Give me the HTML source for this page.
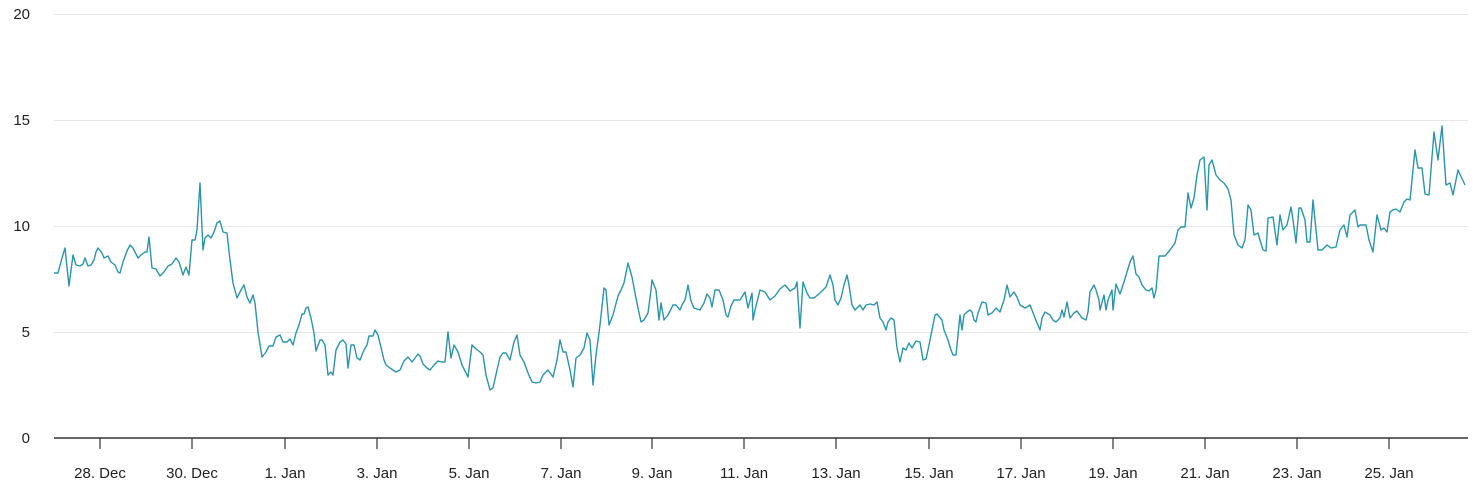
<!DOCTYPE html>
<html><head><style>body{margin:0;background:#fff}svg{display:block;font-family:"Liberation Sans",sans-serif}</style></head><body>
<svg width="1473" height="496" viewBox="0 0 1473 496">
<g stroke="#e6e6e6" stroke-width="1">
<line x1="54" x2="1468" y1="14.5" y2="14.5"/><line x1="54" x2="1468" y1="120.5" y2="120.5"/><line x1="54" x2="1468" y1="226.5" y2="226.5"/><line x1="54" x2="1468" y1="332.5" y2="332.5"/>
</g>
<line x1="54" x2="1468" y1="438" y2="438" stroke="#333" stroke-width="1.5"/>
<g stroke="#333" stroke-width="1.2">
<line x1="100" x2="100" y1="438" y2="449"/><line x1="192" x2="192" y1="438" y2="449"/><line x1="285" x2="285" y1="438" y2="449"/><line x1="377" x2="377" y1="438" y2="449"/><line x1="469" x2="469" y1="438" y2="449"/><line x1="561" x2="561" y1="438" y2="449"/><line x1="652" x2="652" y1="438" y2="449"/><line x1="744" x2="744" y1="438" y2="449"/><line x1="836" x2="836" y1="438" y2="449"/><line x1="929" x2="929" y1="438" y2="449"/><line x1="1021" x2="1021" y1="438" y2="449"/><line x1="1113" x2="1113" y1="438" y2="449"/><line x1="1205" x2="1205" y1="438" y2="449"/><line x1="1297" x2="1297" y1="438" y2="449"/><line x1="1389" x2="1389" y1="438" y2="449"/>
</g>
<g font-size="15" fill="#222" text-anchor="end">
<text x="30" y="19">20</text><text x="30" y="125">15</text><text x="30" y="231">10</text><text x="30" y="337">5</text><text x="30" y="443">0</text>
</g>
<g font-size="15" fill="#222" text-anchor="middle">
<text x="100" y="478">28. Dec</text><text x="192" y="478">30. Dec</text><text x="285" y="478">1. Jan</text><text x="377" y="478">3. Jan</text><text x="469" y="478">5. Jan</text><text x="561" y="478">7. Jan</text><text x="652" y="478">9. Jan</text><text x="744" y="478">11. Jan</text><text x="836" y="478">13. Jan</text><text x="929" y="478">15. Jan</text><text x="1021" y="478">17. Jan</text><text x="1113" y="478">19. Jan</text><text x="1205" y="478">21. Jan</text><text x="1297" y="478">23. Jan</text><text x="1389" y="478">25. Jan</text>
</g>
<polyline fill="none" stroke="#2b94a8" stroke-width="1.4" stroke-linejoin="round" points="54,273 58,273 62,258 65,248 69,286 73,255 76,265 80,266 83,264 85,258 88,266 91,265 94,260 96,252 98,248 102,253 104,258 108,256 111,262 115,265 118,272 120,273 123,262 127,251 130,245 133,248 138,258 141,255 145,252 147,252 149,237 152,268 156,269 160,276 164,272 168,266 172,264 176,258 179,262 183,275 186,267 189,275 192,240 195,240 197,230 200,183 203,250 205,238 208,235 211,238 214,232 217,223 220,221 223,232 227,233 230,260 233,283 237,298 241,290 244,285 247,297 250,303 253,295 255,303 258,332 262,357 266,352 269,346 273,346 276,337 280,335 283,342 287,342 290,339 293,345 296,333 299,325 302,314 304,314 306,308 308,307 311,318 314,333 316,351 320,340 322,340 325,345 328,375 331,372 333,375 336,350 340,342 343,340 346,344 348,368 351,345 354,345 357,358 360,360 364,350 367,345 369,336 373,336 375,330 378,335 384,360 386,365 390,368 396,372 400,370 404,361 408,357 412,362 418,354 420,356 423,364 427,368 430,370 434,365 438,361 442,362 445,362 448,332 451,358 454,345 458,352 462,365 468,377 472,345 475,348 480,352 483,355 486,375 490,390 493,388 497,370 500,357 503,353 506,353 510,360 514,342 517,335 520,355 524,362 528,373 532,382 536,383 540,382 543,375 548,370 553,377 557,360 560,340 563,352 566,352 570,370 573,387 576,358 580,355 584,348 587,333 590,340 593,385 596,355 600,325 604,288 606,290 609,325 613,315 618,296 621,290 624,283 628,263 632,277 635,293 638,308 641,322 644,320 648,313 651,290 652,280 654,285 656,290 659,320 661,303 664,320 668,315 673,305 676,305 680,310 682,305 685,300 688,285 691,301 694,308 700,310 704,303 707,294 710,298 712,307 715,290 719,290 723,300 726,315 728,317 731,306 734,300 740,300 745,292 748,308 752,293 753,320 755,310 760,290 765,292 770,300 775,296 780,289 785,285 790,291 795,288 797,282 800,328 803,282 807,293 810,298 814,298 820,293 826,287 830,275 833,285 835,300 838,305 841,298 844,285 847,275 849,285 852,305 855,310 858,307 860,305 863,310 866,305 870,304 874,305 877,302 880,318 883,322 886,330 888,322 891,318 894,320 897,348 900,362 903,348 906,350 909,343 912,348 916,341 920,342 923,360 926,359 929,345 932,330 935,315 937,314 942,320 944,330 948,340 951,350 953,355 956,355 958,335 960,315 962,330 964,315 967,312 970,310 972,312 974,320 976,322 978,313 982,302 986,303 988,315 992,313 996,308 1000,312 1004,300 1007,285 1010,297 1014,292 1017,297 1020,305 1025,308 1030,305 1032,310 1035,318 1040,330 1042,318 1045,312 1050,315 1053,320 1056,322 1060,318 1062,310 1064,317 1067,302 1070,318 1074,313 1077,311 1082,318 1086,320 1088,312 1090,292 1094,285 1096,290 1099,300 1100,310 1104,295 1106,310 1108,300 1112,290 1113,310 1116,284 1120,294 1124,282 1127,272 1130,262 1133,256 1136,274 1139,277 1142,285 1146,290 1149,291 1152,288 1154,298 1156,290 1159,256 1165,256 1170,250 1175,243 1178,230 1181,227 1185,227 1188,193 1191,208 1194,198 1197,175 1200,160 1204,157 1207,210 1209,165 1212,160 1216,175 1220,180 1224,183 1228,189 1231,200 1234,235 1238,245 1242,248 1245,240 1248,205 1251,210 1254,235 1258,233 1260,240 1263,250 1266,251 1268,218 1273,217 1277,245 1280,215 1283,230 1287,225 1291,207 1293,220 1296,243 1299,208 1301,208 1305,220 1307,242 1310,242 1313,200 1315,220 1318,250 1322,250 1327,245 1331,248 1336,247 1340,230 1344,225 1347,237 1350,215 1355,210 1358,227 1360,225 1366,225 1369,240 1373,252 1377,215 1381,230 1384,228 1387,232 1390,212 1393,210 1396,209 1400,212 1404,202 1407,199 1410,200 1415,150 1418,168 1422,168 1425,194 1429,195 1434,132 1438,160 1442,126 1446,185 1450,183 1453,195 1458,170 1465,185"/>
</svg>
</body></html>
